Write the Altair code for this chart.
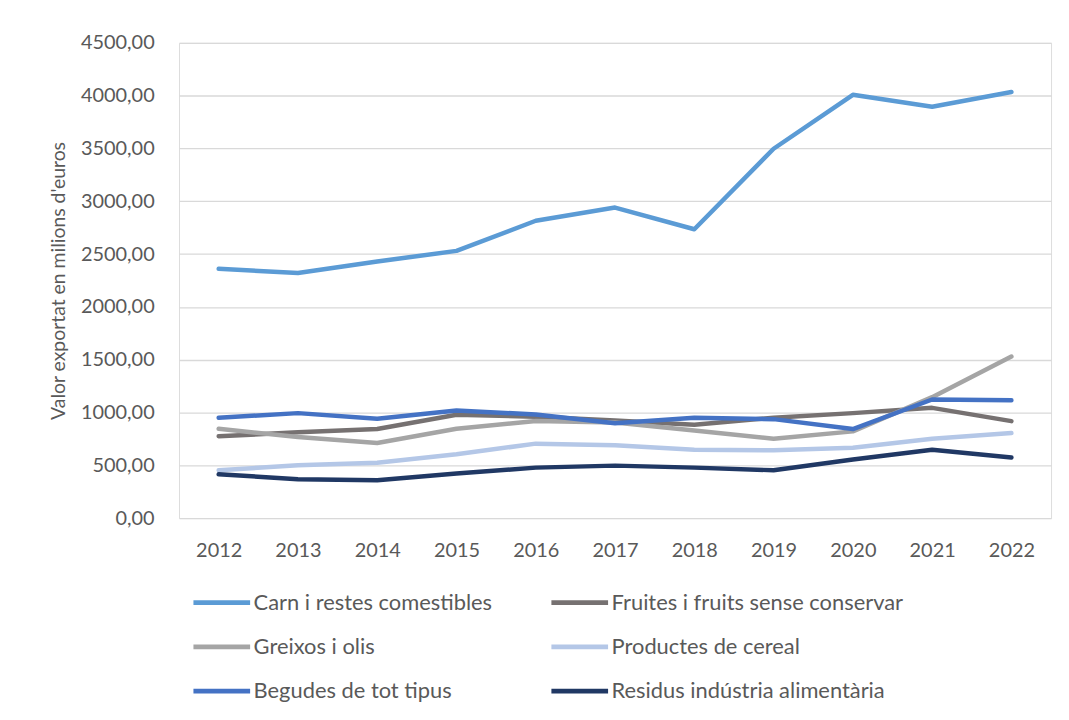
import altair as alt
import pandas as pd

years = [str(y) for y in range(2012, 2023)]
series_names = [
    "Carn i restes comestibles",
    "Fruites i fruits sense conservar",
    "Greixos i olis",
    "Productes de cereal",
    "Begudes de tot tipus",
    "Residus indústria alimentària",
]
carn = [2360, 2320, 2430, 2530, 2815, 2940, 2735, 3497, 4008, 3895, 4035]
fruites = [775, 812, 843, 978, 960, 925, 884, 950, 994, 1044, 918]
greixos = [846, 767, 711, 846, 920, 905, 830, 752, 821, 1145, 1530]
cereal = [453, 500, 525, 604, 705, 689, 648, 642, 667, 752, 805]
begudes = [950, 994, 940, 1019, 981, 899, 950, 937, 843, 1123, 1116]
residus = [415, 368, 359, 422, 478, 497, 478, 453, 554, 648, 573]
colors = ["#5B9BD5", "#767171", "#A5A5A5", "#B4C7E7", "#4472C4", "#203864"]

all_vals = [carn, fruites, greixos, cereal, begudes, residus]
rows = []
for name, vals in zip(series_names, all_vals):
    for y, v in zip(years, vals):
        rows.append({"Any": y, "Serie": name, "Valor": v})
df = pd.DataFrame(rows)

FONT = "Lato"
TXT = "#595959"

chart = alt.Chart(df).mark_line(strokeWidth=4.5, strokeCap="round", strokeJoin="round").encode(
    x=alt.X("Any:O", sort=years,
            scale=alt.Scale(type="point", padding=0.5),
            axis=alt.Axis(title=None, labelAngle=0, domain=False, ticks=False,
                          labelPadding=23, labelFontSize=20, labelColor=TXT, labelFont=FONT, grid=False)),
    y=alt.Y("Valor:Q", scale=alt.Scale(domain=[0, 4500], nice=False),
            axis=alt.Axis(title="Valor exportat en milions d'euros", values=list(range(0, 4501, 500)),
                          labelExpr="replace(format(datum.value, '.2f'), '.', ',')",
                          domain=False, ticks=False, labelPadding=25, labelFontSize=20,
                          labelColor=TXT, labelFont=FONT, titleFont=FONT, titleFontSize=19.5,
                          titleFontWeight="normal", titleColor=TXT, titlePadding=12,
                          gridColor="#D9D9D9", gridWidth=1.3)),
    color=alt.Color("Serie:N", sort=series_names,
                    scale=alt.Scale(domain=series_names, range=colors),
                    legend=alt.Legend(title=None, orient="none", legendX=12, legendY=532,
                                      direction="horizontal",
                                      columns=2, columnPadding=49, rowPadding=2.5,
                                      symbolType="stroke", symbolSize=3249, symbolStrokeWidth=5,
                                      labelFontSize=22, labelFont=FONT, labelColor=TXT,
                                      labelOffset=1, labelLimit=400)),
    order=alt.Order("Serie:N"),
).properties(
    width=877, height=478,
    padding={"left": 40, "top": 23, "right": 10, "bottom": 10},
).configure_view(stroke=None).configure(background="white")

chart.save("out.html", embed_options={"renderer": "svg", "actions": False})
